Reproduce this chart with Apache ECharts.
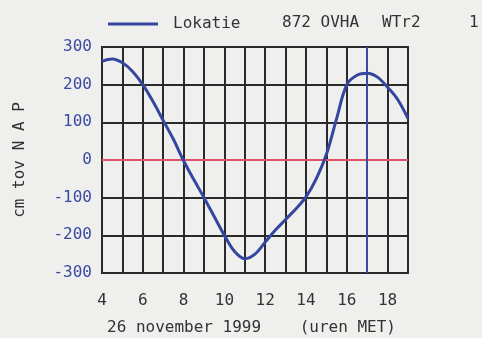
<!DOCTYPE html>
<html>
<head>
<meta charset="utf-8">
<script src="https://cdn.jsdelivr.net/npm/echarts@6/dist/echarts.min.js"></script>
<style>html,body{margin:0;padding:0;background:#efefed;}#c{width:482px;height:338px;}</style>
</head>
<body>
<div id="c"></div>
<script>
// Data
var hours = [4.0, 4.5, 5.0, 5.5, 6.0, 6.5, 7.0, 7.5, 8.0, 8.5, 9.0, 9.5, 10.0, 10.5, 11.0, 11.5, 12.0, 12.5, 13.0, 13.5, 14.0, 14.5, 15.0, 15.5, 16.0, 16.5, 17.0, 17.5, 18.0, 18.5, 19.0];
var waterLevel = [262, 268, 258, 235, 200, 155, 105, 55, -2, -52, -100, -150, -200, -243, -262, -250, -218, -186, -158, -130, -98, -50, 15, 110, 200, 225, 230, 220, 193, 160, 110];
var xTicks = [4, 6, 8, 10, 12, 14, 16, 18];
var yTicks = [-300, -200, -100, 0, 100, 200, 300];
var currentHour = [17];
var seriesName = 'Lokatie';
var headerTexts = ['872 OVHA', 'WTr2', '1'];
var yAxisTitle = 'cm tov N A P';
var xAxisTitle = '26 november 1999    (uren MET)';

var FONT = 'DejaVu Sans Mono';
var chart = echarts.init(document.getElementById('c'));
var pts = hours.map(function (h, i) { return [h, waterLevel[i]]; });

chart.setOption({
  backgroundColor: '#efefed',
  animation: false,
  textStyle: { fontFamily: FONT },
  legend: {
    left: 103, top: 11,
    itemWidth: 50, itemHeight: 3, itemGap: 20,
    icon: 'rect',
    textStyle: { fontFamily: FONT, fontSize: 16, color: '#333', padding: [0, 0, 0, 10] },
    data: [seriesName]
  },
  graphic: [
    { type: 'text', left: 282, top: 15, style: { text: headerTexts[0], fontFamily: FONT, fontSize: 16, fill: '#333' } },
    { type: 'text', left: 382, top: 15, style: { text: headerTexts[1], fontFamily: FONT, fontSize: 16, fill: '#333' } },
    { type: 'text', left: 469, top: 15, style: { text: headerTexts[2], fontFamily: FONT, fontSize: 16, fill: '#333' } },
    { type: 'text', left: 107, top: 320, style: { text: xAxisTitle, fontFamily: FONT, fontSize: 16, fill: '#333' } }
  ],
  grid: { left: 102, right: 74, top: 47, bottom: 65, show: true, borderColor: '#2a2a2a', borderWidth: 2, backgroundColor: 'transparent' },
  xAxis: {
    type: 'value', min: 4, max: 19, interval: 1,
    axisLine: { show: false },
    axisTick: { show: false },
    axisLabel: {
      margin: 20, fontFamily: FONT, fontSize: 16, color: '#333',
      formatter: function (v) { return xTicks.indexOf(v) >= 0 ? String(v) : ''; }
    },
    splitLine: { show: true, lineStyle: { color: '#2a2a2a', width: 2 } }
  },
  yAxis: {
    type: 'value', min: -300, max: 300, interval: 100,
    name: yAxisTitle, nameLocation: 'middle', nameGap: 74, nameRotate: 90,
    nameTextStyle: { fontFamily: FONT, fontSize: 16, color: '#333' },
    axisLine: { show: false },
    axisTick: { show: false },
    axisLabel: {
      margin: 10, fontFamily: FONT, fontSize: 16, color: '#3a4aa0',
      formatter: function (v) { return yTicks.indexOf(v) >= 0 ? String(v) : ''; }
    },
    splitLine: { show: true, lineStyle: { color: '#2a2a2a', width: 2 } }
  },
  series: [{
    name: seriesName,
    type: 'line',
    data: pts,
    smooth: 0.35,
    showSymbol: false,
    lineStyle: { color: '#3446a0', width: 3 },
    itemStyle: { color: '#3446a0' },
    z: 5,
    markLine: {
      silent: true, symbol: 'none', label: { show: false },
      data: [
        { yAxis: 0, lineStyle: { color: '#e0506a', width: 2, type: 'solid' } },
        { xAxis: currentHour[0], lineStyle: { color: '#3a4aa0', width: 2, type: 'solid' } }
      ]
    }
  }]
});
</script>
</body>
</html>
